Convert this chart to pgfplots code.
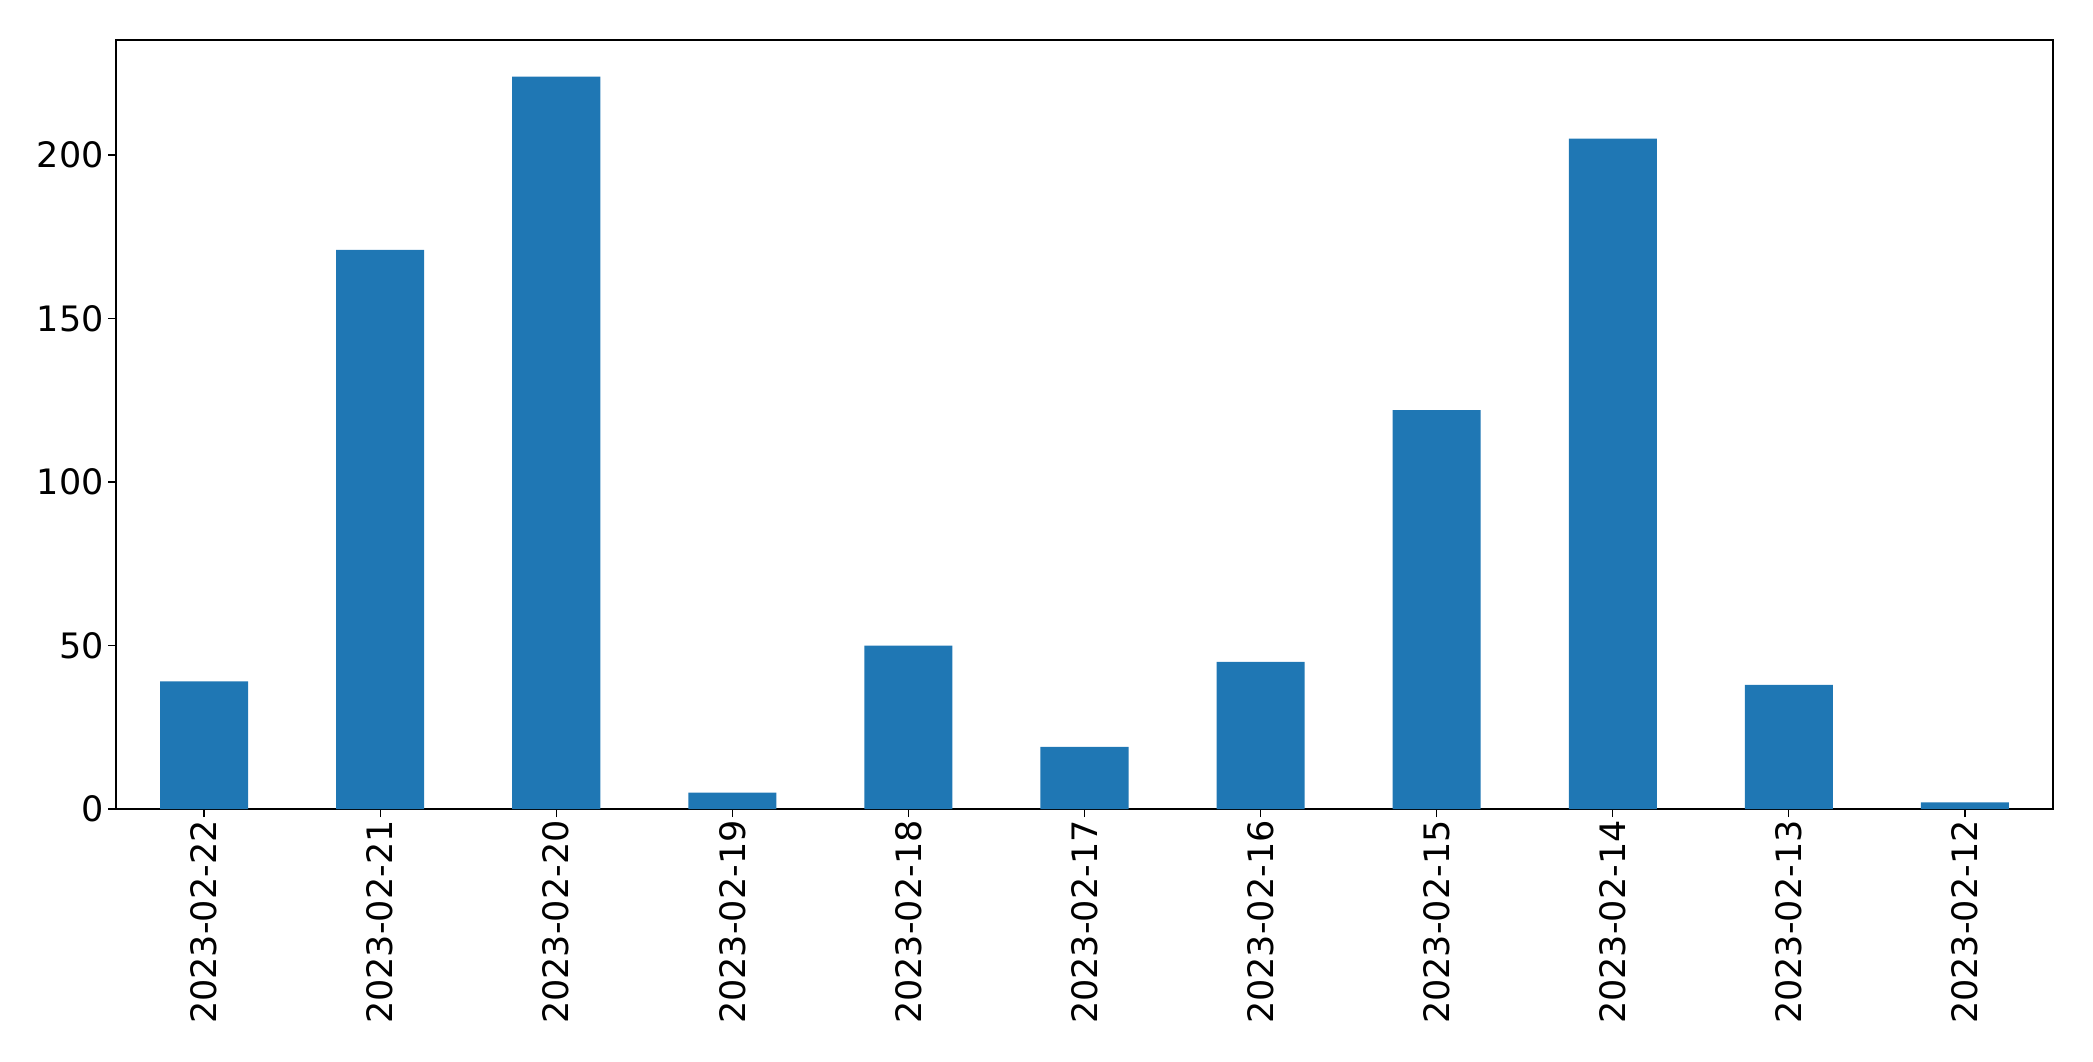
\documentclass[border=0pt]{standalone}
\usepackage{fontspec}
\setmainfont{DejaVu Sans}
\usepackage{pgfplots}
\pgfplotsset{compat=1.18}
\definecolor{barblue}{HTML}{1F77B4}

\pgfplotstableread{
x val
0 39
1 171
2 224
3 5
4 50
5 19
6 45
7 122
8 205
9 38
10 2
}\counts

\begin{document}
\begin{tikzpicture}
\useasboundingbox (-58pt,-126pt) rectangle (988.5pt,404.5pt);
\begin{axis}[
    at={(0,0)}, anchor=south west,
    scale only axis,
    width=968.5pt, height=384.5pt,
    xmin=-0.5, xmax=10.5,
    ymin=0, ymax=235.2,
    xtick=data,
    xticklabels={2023-02-22,2023-02-21,2023-02-20,2023-02-19,2023-02-18,2023-02-17,2023-02-16,2023-02-15,2023-02-14,2023-02-13,2023-02-12},
    ytick={0,50,100,150,200},
    xticklabel style={rotate=90, anchor=east, inner sep=0pt, xshift=-1.5pt},
    yticklabel style={inner sep=0pt, xshift=-2pt},
    tick label style={font=\fontsize{17.5}{21}\selectfont},
    /pgf/number format/assume math mode=true,
    tick align=outside,
    xtick pos=bottom, ytick pos=left,
    major tick length=4pt,
    tick style={black, line width=0.6pt},
    axis line style={line width=0.6pt},
]
\addplot[ybar, bar width=0.5, fill=barblue, draw=none] table[x=x, y=val] {\counts};
\end{axis}
\end{tikzpicture}
\end{document}
